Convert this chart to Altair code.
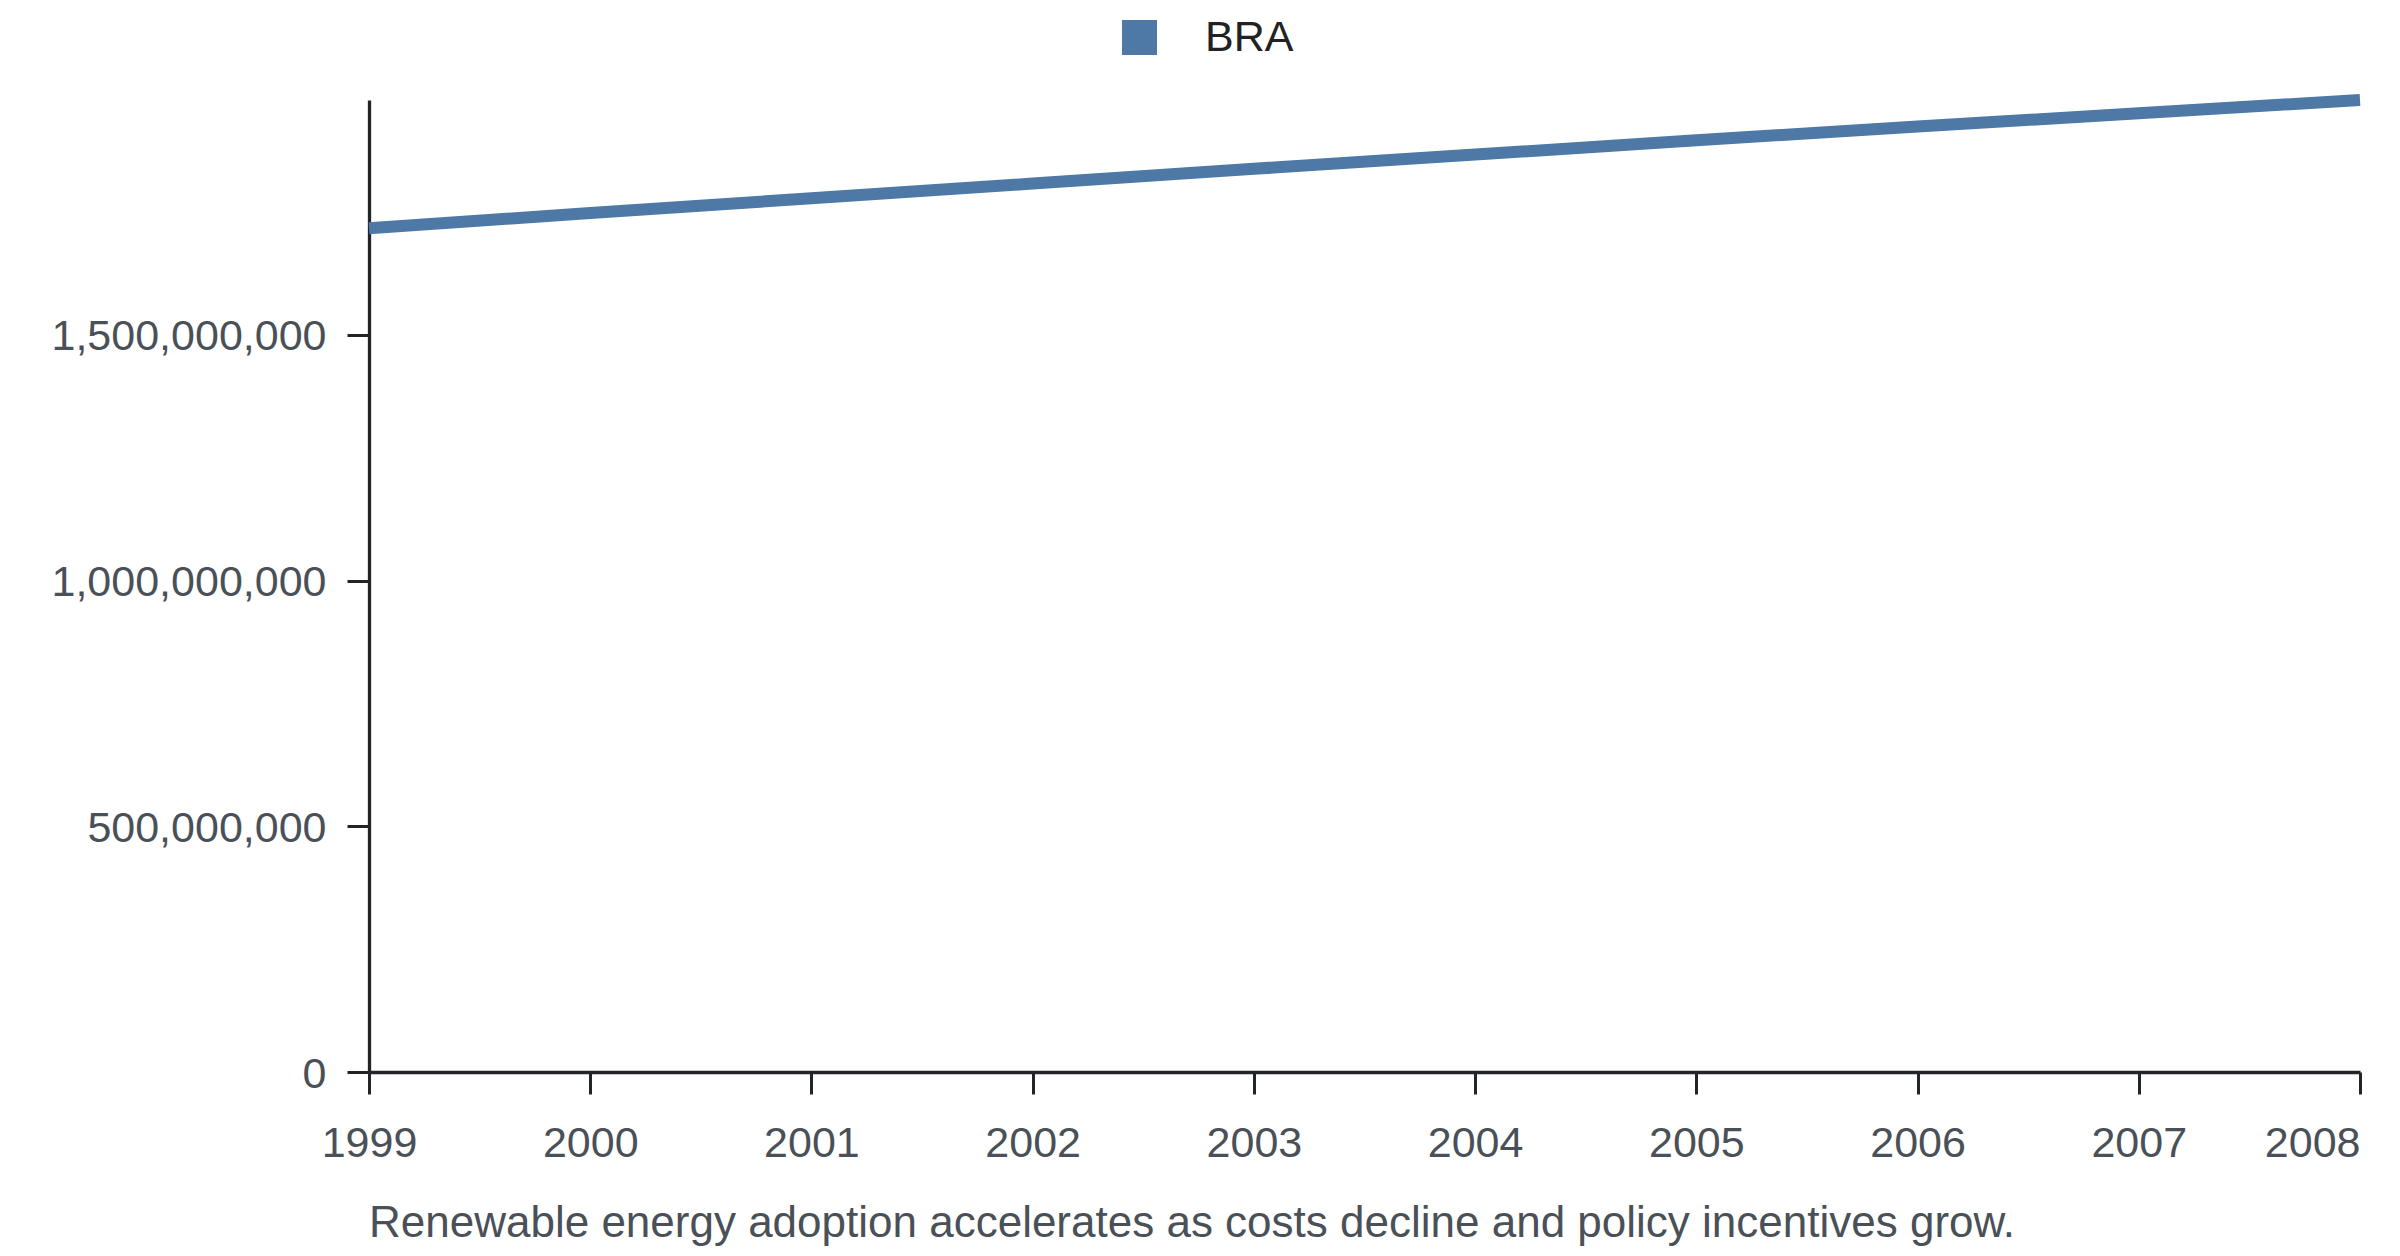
import altair as alt
import pandas as pd

years = [1999, 2000, 2001, 2002, 2003, 2004, 2005, 2006, 2007, 2008]
values = [1.717e9, 1.748e9, 1.778e9, 1.808e9, 1.838e9, 1.867e9, 1.896e9, 1.924e9, 1.951e9, 1.978e9]
series = ["BRA"] * len(years)
y_ticks = [0, 500000000, 1000000000, 1500000000]
caption = "Renewable energy adoption accelerates as costs decline and policy incentives grow."

df = pd.DataFrame({"year": years, "value": values, "country": series})

FONT = "Liberation Sans"
LABEL = "#4a5058"
AXIS = "#222428"
BLUE = "#4e78a6"

chart = alt.Chart(df).mark_line(strokeWidth=12, color=BLUE).encode(
    x=alt.X("year:Q",
            scale=alt.Scale(domain=[1999, 2008], nice=False, zero=False),
            axis=alt.Axis(values=years, format="d", title=None, grid=False,
                          labelFlush=False,
                          labelAlign=alt.condition("datum.value == 2008", alt.value("right"), alt.value("center")),
                          labelFontSize=43, labelFont=FONT, labelColor=LABEL,
                          labelPadding=28, tickSize=22, tickWidth=3, tickColor=AXIS,
                          domainColor=AXIS, domainWidth=3.3, labelOverlap=False, labelLimit=0)),
    y=alt.Y("value:Q",
            scale=alt.Scale(nice=False, zero=True),
            axis=alt.Axis(values=y_ticks, format=",d", title=None, grid=False,
                          labelFontSize=43, labelFont=FONT, labelColor=LABEL,
                          labelPadding=21, labelOffset=2, tickSize=22, tickWidth=3, tickColor=AXIS,
                          domainColor=AXIS, domainWidth=3.3, labelOverlap=False, labelLimit=0)),
    color=alt.Color("country:N",
                    scale=alt.Scale(range=[BLUE]),
                    legend=alt.Legend(title=None, orient="none", legendX=749, legendY=-84,
                                      symbolType="square", symbolSize=1225,
                                      symbolStrokeWidth=0, symbolOpacity=1,
                                      symbolFillColor=BLUE,
                                      labelFontSize=43, labelFont=FONT, labelColor="#222222",
                                      labelOffset=44, padding=0, labelLimit=0)),
).properties(
    width=1991,
    height=972,
    title=alt.TitleParams(caption, orient="bottom", anchor="start", frame="group",
                          fontSize=44, font=FONT, fontWeight="normal", color=LABEL,
                          offset=37, limit=0),
    padding={"left": 361, "top": 92, "right": 31, "bottom": 184},
    autosize=alt.AutoSizeParams(type="none"),
).configure_view(stroke=None)

chart.save("out.html", embed_options={"renderer": "svg", "actions": False})
